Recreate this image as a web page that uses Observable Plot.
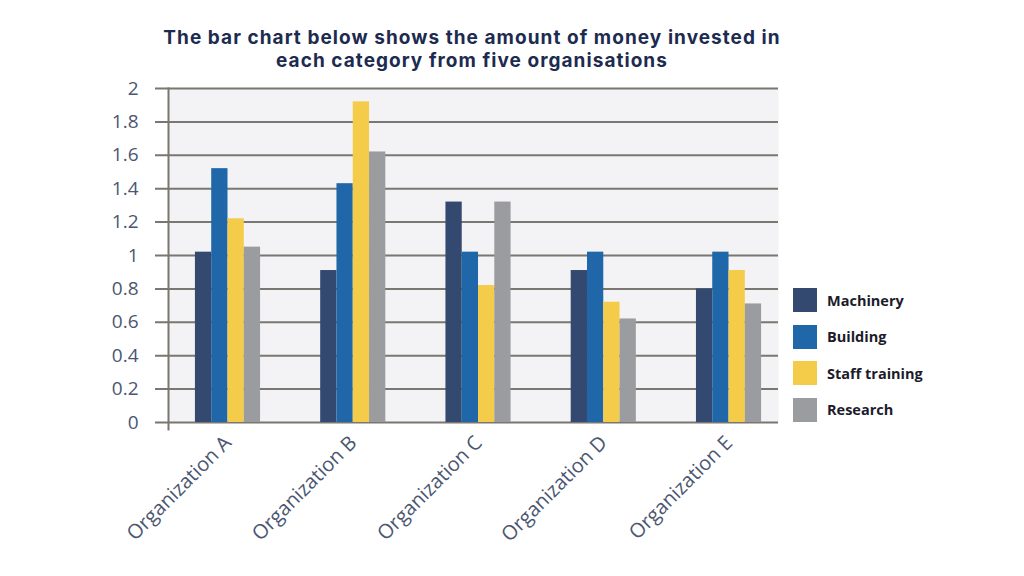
<!DOCTYPE html>
<html>
<head>
<meta charset="utf-8">
<script src="https://cdn.jsdelivr.net/npm/d3@7"></script>
<script src="https://cdn.jsdelivr.net/npm/@observablehq/plot@0.6"></script>
<style>
  html, body { margin: 0; padding: 0; background: #ffffff; }
  body { width: 1024px; height: 576px; position: relative; overflow: hidden; font-family: "Open Sans", "Noto Sans", sans-serif; }
  #title { width: 944px; height: 70px; box-sizing: border-box; padding-top: 26px; text-align: center; font-family: Inter, "Open Sans", sans-serif; font-weight: 700; font-size: 19px; letter-spacing: 1.05px; line-height: 23px; color: #1c2b4f; }
  #title div { height: 23px; }
  #legend { position: absolute; left: 793px; top: 288px; }
  .item { display: flex; align-items: center; height: 24px; margin-bottom: 12.5px; }
  .sw { width: 24px; height: 24px; margin-right: 10px; }
  .lab { font-size: 14.5px; font-weight: 700; color: #1b1b2b; }
</style>
</head>
<body>
<div id="title"><div>The bar chart below shows the amount of money invested in</div><div>each category from five organisations</div></div>
<div id="chart"></div>
<div id="legend"></div>
<script>
const organisations = ["Organization A", "Organization B", "Organization C", "Organization D", "Organization E"];
const categories = ["Machinery", "Building", "Staff training", "Research"];
const colors = ["#33496f", "#1f67a8", "#f4cc49", "#9b9c9f"];
const machinery = [1.02, 0.91, 1.32, 0.91, 0.80];
const building = [1.52, 1.43, 1.02, 1.02, 1.02];
const staffTraining = [1.22, 1.92, 0.82, 0.72, 0.91];
const research = [1.05, 1.62, 1.32, 0.62, 0.71];
const yTicks = [0, 0.2, 0.4, 0.6, 0.8, 1, 1.2, 1.4, 1.6, 1.8, 2];

// Grouped layout: each organisation occupies one unit on x; bars share a group width
const groupWidth = 0.52;
const barWidth = groupWidth / categories.length;
const series = [machinery, building, staffTraining, research];
const data = [];
organisations.forEach((org, i) => {
  categories.forEach((cat, j) => {
    const x1 = i - groupWidth / 2 + j * barWidth;
    data.push({org, category: cat, value: series[j][i], x1, x2: x1 + barWidth});
  });
});

const gridColor = "#7a7671";
const labelColor = "#4b5671";
const chart = Plot.plot({
  width: 1024,
  height: 506,
  marginTop: 18,
  marginBottom: 154,
  marginLeft: 168,
  marginRight: 246,
  style: {background: "transparent", fontFamily: "'Open Sans', 'Noto Sans', sans-serif"},
  x: {type: "linear", domain: [-0.475, 4.395], axis: null},
  y: {domain: [0, 2], axis: null},
  color: {domain: categories, range: colors},
  marks: [
    Plot.frame({fill: "#f3f3f5", stroke: null}),
    Plot.ruleY(yTicks, {y: d => d, stroke: gridColor, strokeWidth: 2, insetLeft: -13}),
    Plot.frame({anchor: "left", stroke: gridColor, strokeWidth: 2, insetBottom: -7}),
    Plot.axisY(yTicks, {tickSize: 0, tickPadding: 30, tickFormat: d => String(d), fontSize: 19, color: labelColor, label: null}),
    Plot.rectY(data, {x1: "x1", x2: "x2", y: "value", fill: "category"}),
    Plot.axisX(organisations.map((d, i) => i), {tickFormat: i => organisations[i], tickRotate: -45, tickSize: 0, tickPadding: 17, fontSize: 20, color: labelColor, label: null})
  ]
});
document.getElementById("chart").appendChild(chart);

const legend = document.getElementById("legend");
categories.forEach((cat, j) => {
  const item = document.createElement("div");
  item.className = "item";
  const sw = document.createElement("div");
  sw.className = "sw";
  sw.style.background = colors[j];
  const lab = document.createElement("div");
  lab.className = "lab";
  lab.textContent = cat;
  item.appendChild(sw);
  item.appendChild(lab);
  legend.appendChild(item);
});
</script>
</body>
</html>
